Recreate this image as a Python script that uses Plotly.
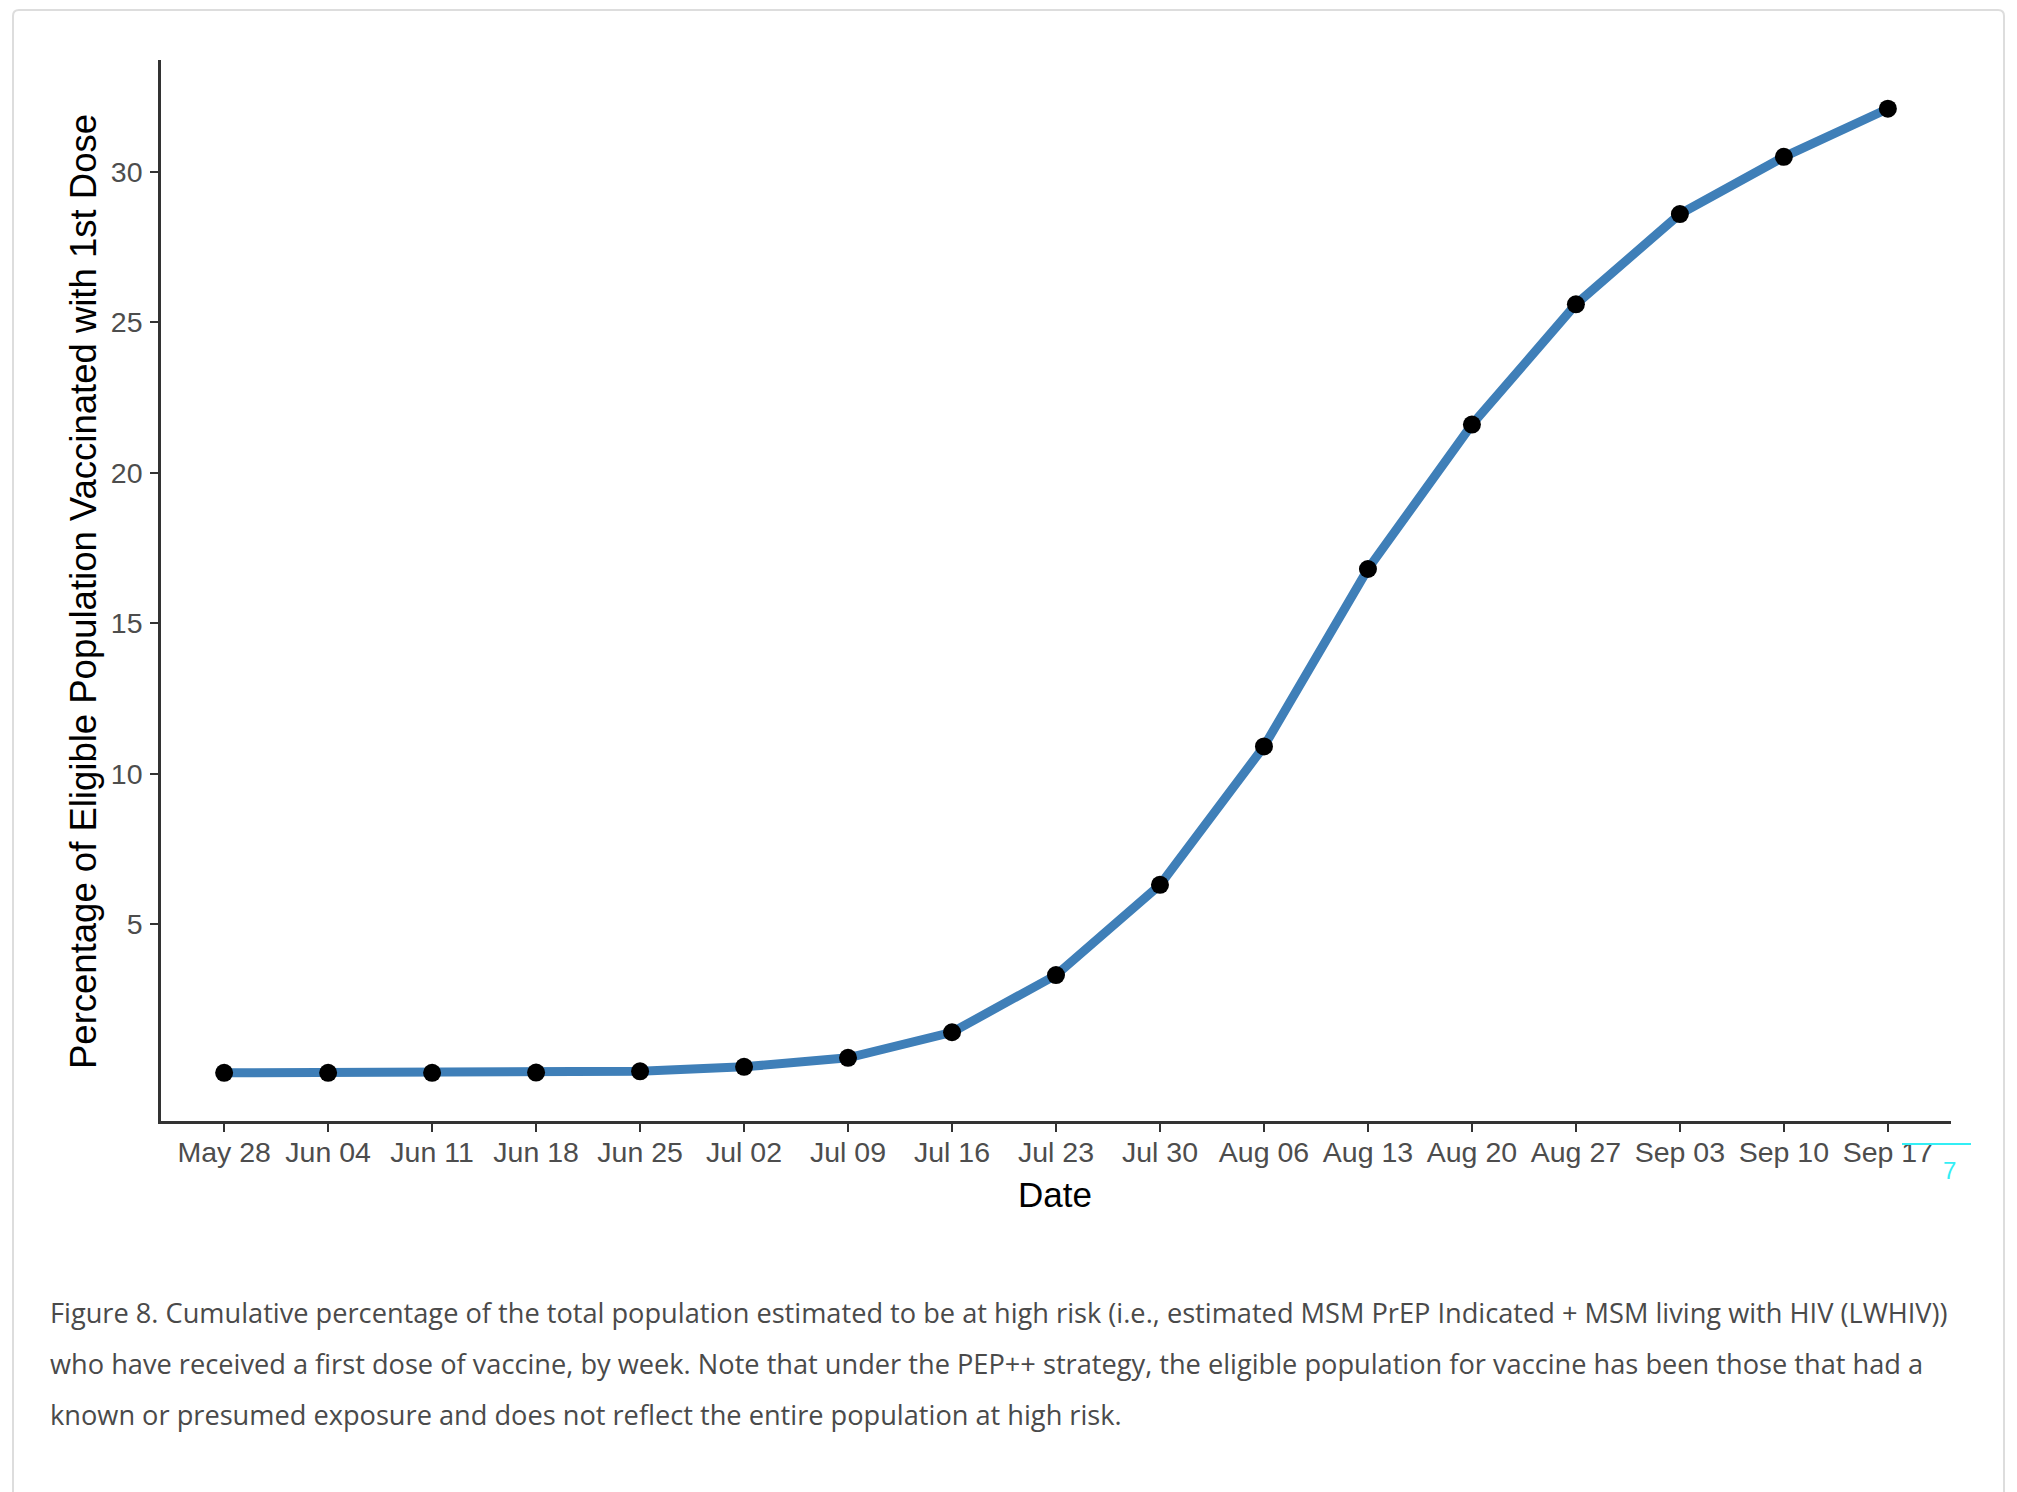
import plotly.graph_objects as go

# Weekly cumulative first-dose coverage of the eligible population (%)
week_dates = [
    "2022-05-28", "2022-06-04", "2022-06-11", "2022-06-18", "2022-06-25",
    "2022-07-02", "2022-07-09", "2022-07-16", "2022-07-23", "2022-07-30",
    "2022-08-06", "2022-08-13", "2022-08-20", "2022-08-27", "2022-09-03",
    "2022-09-10", "2022-09-17",
]
pct_vaccinated = [
    0.05, 0.05, 0.05, 0.06, 0.10,
    0.25, 0.55, 1.40, 3.30, 6.30,
    10.90, 16.80, 21.60, 25.60, 28.60,
    30.50, 32.10,
]
week_labels = [
    "May 28", "Jun 04", "Jun 11", "Jun 18", "Jun 25", "Jul 02", "Jul 09",
    "Jul 16", "Jul 23", "Jul 30", "Aug 06", "Aug 13", "Aug 20", "Aug 27",
    "Sep 03", "Sep 10", "Sep 17",
]
y_ticks = [5, 10, 15, 20, 25, 30]

caption_lines = [
    "Figure 8. Cumulative percentage of the total population estimated to be at high risk (i.e., estimated MSM PrEP Indicated + MSM living with HIV (LWHIV))",
    "who have received a first dose of vaccine, by week. Note that under the PEP++ strategy, the eligible population for vaccine has been those that had a",
    "known or presumed exposure and does not reflect the entire population at high risk.",
]

W, H = 2017, 1492
PL, PR, PT, PB = 161, 1951, 60, 1121


def px(x):
    return (x - PL) / (PR - PL)


def py(y):
    return (PB - y) / (PB - PT)


fig = go.Figure()
fig.add_trace(go.Scatter(
    x=week_dates, y=pct_vaccinated, mode="lines+markers",
    line=dict(color="#3F7FB8", width=9),
    marker=dict(color="black", size=18),
    showlegend=False, hoverinfo="skip",
))

axis_font = dict(family="Liberation Sans, Arial, sans-serif", size=28.5, color="#4D4D4D")

fig.update_xaxes(
    type="date",
    range=["2022-05-23 18:00", "2022-09-21 06:00"],
    tickvals=week_dates, ticktext=week_labels,
    showline=True, linecolor="#333333", linewidth=2.5,
    ticks="outside", ticklen=8, tickwidth=2, tickcolor="#333333",
    showgrid=False, zeroline=False, tickfont=axis_font,
    ticklabelstandoff=-4,
)
fig.update_yaxes(
    range=[-1.55, 33.72],
    tickvals=y_ticks,
    showline=True, linecolor="#333333", linewidth=2.5,
    ticks="outside", ticklen=8, tickwidth=2, tickcolor="#333333",
    showgrid=False, zeroline=False, tickfont=axis_font,
    ticklabelstandoff=2,
)

annotations = [
    dict(text="Percentage of Eligible Population Vaccinated with 1st Dose",
         x=px(83), y=py(592), xref="paper", yref="paper", textangle=-90,
         showarrow=False, xanchor="center", yanchor="middle",
         font=dict(family="Liberation Sans, Arial, sans-serif", size=36.5, color="black")),
    dict(text="Date", x=px(1055), y=py(1194), xref="paper", yref="paper",
         showarrow=False, xanchor="center", yanchor="middle",
         font=dict(family="Liberation Sans, Arial, sans-serif", size=35, color="black")),
    dict(text="7", x=px(1949), y=py(1170), xref="paper", yref="paper",
         showarrow=False, xanchor="center", yanchor="middle",
         font=dict(family="Liberation Sans, Arial, sans-serif", size=24, color="#33EEF5")),
]
for i, line in enumerate(caption_lines):
    annotations.append(dict(
        text=line, x=px(48), y=py(1312 + i * 51), xref="paper", yref="paper",
        showarrow=False, xanchor="left", yanchor="middle",
        font=dict(family="Open Sans, sans-serif", size=27.2, color="#4A4A4A"),
    ))

# Rounded page card outline
r = 6
cl, ct, cr, cb = 13, 10, 2004, 1510
card_path = (
    f"M {px(cl)},{py(cb)} L {px(cl)},{py(ct + r)} "
    f"Q {px(cl)},{py(ct)} {px(cl + r)},{py(ct)} "
    f"L {px(cr - r)},{py(ct)} Q {px(cr)},{py(ct)} {px(cr)},{py(ct + r)} "
    f"L {px(cr)},{py(cb)}"
)
shapes = [
    dict(type="path", path=card_path, xref="paper", yref="paper",
         line=dict(color="#DDDDDD", width=2), layer="below"),
    dict(type="line", x0=px(1902), x1=px(1971), y0=py(1144), y1=py(1144),
         xref="paper", yref="paper", line=dict(color="#33EEF5", width=2)),
]

fig.update_layout(
    width=W, height=H,
    margin=dict(l=PL, r=W - PR, t=PT, b=H - PB),
    paper_bgcolor="white", plot_bgcolor="white",
    annotations=annotations, shapes=shapes,
)

fig.write_html("out.html")
